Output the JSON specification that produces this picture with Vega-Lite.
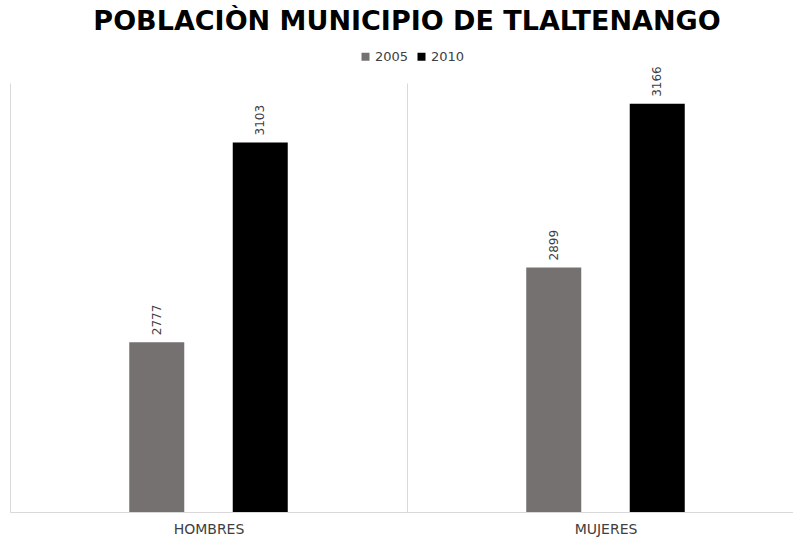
{
  "$schema": "https://vega.github.io/schema/vega-lite/v6.json",
  "autosize": "none",
  "width": 794,
  "height": 429,
  "padding": {"left": 10, "top": 83, "right": 0, "bottom": 27},
  "background": "white",
  "title": {
    "text": "POBLACIÒN MUNICIPIO DE TLALTENANGO",
    "font": "DejaVu Sans",
    "fontSize": 27,
    "fontWeight": "bold",
    "color": "#000000",
    "anchor": "middle",
    "offset": 14
  },
  "data": {
    "values": [
      {"genero": "HOMBRES", "anio": "2005", "valor": 2777},
      {"genero": "HOMBRES", "anio": "2010", "valor": 3103},
      {"genero": "MUJERES", "anio": "2005", "valor": 2899},
      {"genero": "MUJERES", "anio": "2010", "valor": 3166}
    ]
  },
  "encoding": {
    "x": {
      "field": "genero",
      "type": "nominal",
      "sort": ["HOMBRES", "MUJERES"],
      "scale": {"paddingInner": 0, "paddingOuter": 0},
      "axis": {
        "title": null,
        "labelAngle": 0,
        "grid": true,
        "tickBand": "extent",
        "gridColor": "#d9d9d9",
        "gridWidth": 1,
        "domainColor": "#d9d9d9",
        "ticks": false,
        "labelFont": "DejaVu Sans",
        "labelFontSize": 14,
        "labelColor": "#404040",
        "labelPadding": 10
      }
    },
    "xOffset": {
      "field": "anio",
      "type": "nominal",
      "scale": {"paddingInner": 0.164, "paddingOuter": 1}
    },
    "y": {
      "field": "valor",
      "type": "quantitative",
      "scale": {"domain": [2500, 3200], "zero": false, "nice": false},
      "axis": null
    }
  },
  "layer": [
    {
      "mark": {"type": "bar", "width": 55},
      "encoding": {
        "y2": {"datum": 2500},
        "color": {
          "field": "anio",
          "type": "nominal",
          "scale": {"domain": ["2005", "2010"], "range": ["#767171", "#000000"]},
          "legend": {
            "title": null,
            "orient": "none",
            "legendX": 349,
            "legendY": -33,
            "direction": "horizontal",
            "symbolType": "square",
            "symbolSize": 64,
            "labelFont": "DejaVu Sans",
            "labelFontSize": 13,
            "labelColor": "#404040",
            "columnPadding": 6,
            "labelOffset": 3
          }
        }
      }
    },
    {
      "mark": {
        "type": "text",
        "angle": 270,
        "align": "left",
        "baseline": "middle",
        "dx": 7,
        "font": "DejaVu Sans",
        "fontSize": 12,
        "color": "#404040"
      },
      "encoding": {
        "text": {"field": "valor", "type": "quantitative"}
      }
    }
  ],
  "config": {"view": {"stroke": null}}
}
